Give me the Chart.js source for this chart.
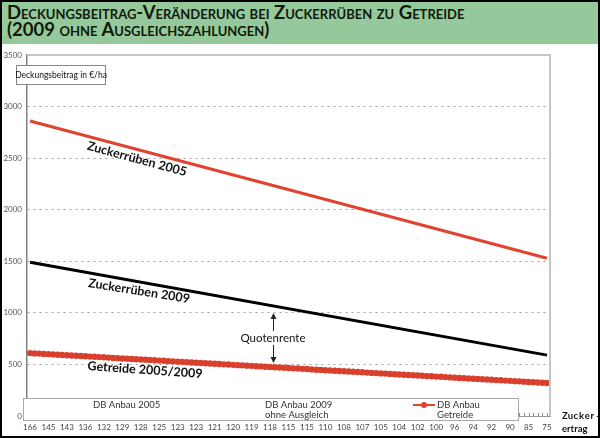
<!DOCTYPE html>
<html>
<head>
<meta charset="utf-8">
<script src="https://cdn.jsdelivr.net/npm/chart.js@4.4.1/dist/chart.umd.min.js"></script>
<style>
  html, body { margin: 0; padding: 0; background: #fff; }
  #wrap { position: relative; width: 600px; height: 438px; overflow: hidden; }
  #chart { position: absolute; left: 0; top: 0; }
  #title {
    position: absolute; left: 0; top: 0; width: 600px; height: 44px;
    box-sizing: border-box; padding: 4px 0 0 7px;
    background: #95c89b; color: #101a0c;
    font: bold 18.5px Lato, 'Open Sans', sans-serif;
    font-variant: small-caps; line-height: 17px;
  }
  #frame {
    position: absolute; left: 0; top: 0; width: 600px; height: 438px;
    box-sizing: border-box; border: 2px solid #000; pointer-events: none;
  }
</style>
</head>
<body>
<div id="wrap">
  <canvas id="chart" width="600" height="438"></canvas>
  <div id="title">Deckungsbeitrag-Veränderung bei Zuckerrüben zu Getreide<br>(2009 ohne Ausgleichszahlungen)</div>
  <div id="frame"></div>
</div>
<script>
// Zuckerertrag labels shown under the axis (every 4th point)
const xLabels = ["166", "145", "143", "136", "132", "129", "128", "125", "123", "123",
  "121", "120", "119", "118", "115", "115", "110", "108", "107", "105",
  "104", "102", "100", "96", "94", "92", "90", "85", "75"]
const labelStep = 4

const yTicks = [0, 500, 1000, 1500, 2000, 2500, 3000, 3500]

// straight lines, start and end point
const lineX = [0, 112]
const zr2005 = [2860, 1530]
const zr2009 = [1490, 590]

// DB Anbau Getreide, one value per point
const getreide = [610, 607, 605, 602, 600, 597, 594, 592, 589, 587,
  584, 582, 579, 576, 574, 571, 569, 566, 563, 561,
  558, 556, 553, 550, 548, 545, 543, 540, 537, 535,
  532, 530, 527, 525, 522, 519, 517, 514, 512, 509,
  506, 504, 501, 499, 496, 493, 491, 488, 486, 483,
  481, 478, 475, 473, 470, 468, 465, 462, 460, 457,
  455, 452, 449, 447, 444, 442, 439, 437, 434, 431,
  429, 426, 424, 421, 418, 416, 413, 411, 408, 405,
  403, 400, 398, 395, 392, 390, 387, 385, 382, 380,
  377, 374, 372, 369, 367, 364, 361, 359, 356, 354,
  351, 348, 346, 343, 341, 338, 336, 333, 330, 328,
  325, 323, 320]

const FONT = "Lato, 'Open Sans', sans-serif"
const red = "#e0432f"

const pts = (xs, ys) => ys.map((y, i) => ({ x: xs[i], y: y }))

const extras = {
  id: "extras",
  afterDatasetsDraw(chart) {
    const ctx = chart.ctx
    const a = chart.chartArea
    const xs = chart.scales.x
    ctx.save()

    // plot frame top + right
    ctx.strokeStyle = "#c6c6c6"
    ctx.lineWidth = 2
    ctx.beginPath()
    ctx.moveTo(a.left, a.top)
    ctx.lineTo(a.right, a.top)
    ctx.lineTo(a.right, a.bottom)
    ctx.stroke()

    // small category ticks on the x axis
    ctx.strokeStyle = "#888"
    ctx.lineWidth = 1
    ctx.beginPath()
    getreide.forEach((_, i) => {
      const px = Math.round(xs.getPixelForValue(i)) + 0.5
      ctx.moveTo(px, a.bottom - 3)
      ctx.lineTo(px, a.bottom)
    })
    ctx.stroke()

    // axis title box
    ctx.fillStyle = "#fff"
    ctx.strokeStyle = "#888"
    ctx.lineWidth = 1
    ctx.fillRect(16.5, 65.5, 89, 19)
    ctx.strokeRect(16.5, 65.5, 89, 19)
    ctx.fillStyle = "#111"
    ctx.font = "8.5px " + FONT
    ctx.textAlign = "center"
    ctx.textBaseline = "middle"
    ctx.fillText("Deckungsbeitrag in €/ha", 61, 75)

    // line labels
    const label = (txt, x, y, deg, font) => {
      ctx.save()
      ctx.translate(x, y)
      ctx.rotate(deg * Math.PI / 180)
      ctx.font = font
      ctx.fillStyle = "#111"
      ctx.textAlign = "center"
      ctx.textBaseline = "middle"
      ctx.fillText(txt, 0, 0)
      ctx.restore()
    }
    label("Zuckerrüben 2005", 137, 159, 15, "bold 12.5px " + FONT)
    label("Zuckerrüben 2009", 139, 291, 9, "bold 12.5px " + FONT)
    label("Getreide 2005/2009", 145, 370, 4, "bold 12.5px " + FONT)
    label("Quotenrente", 273, 338, 0, "11.5px " + FONT)

    // arrows
    const arrow = (x, y0, y1) => {
      const dir = y1 > y0 ? 1 : -1
      ctx.strokeStyle = "#222"
      ctx.fillStyle = "#222"
      ctx.lineWidth = 1
      ctx.beginPath()
      ctx.moveTo(x, y0)
      ctx.lineTo(x, y1 - dir * 5)
      ctx.stroke()
      ctx.beginPath()
      ctx.moveTo(x, y1)
      ctx.lineTo(x - 3, y1 - dir * 6)
      ctx.lineTo(x + 3, y1 - dir * 6)
      ctx.closePath()
      ctx.fill()
    }
    arrow(273.5, 331, 313)
    arrow(273.5, 345, 363)

    // legend box
    ctx.fillStyle = "#fff"
    ctx.strokeStyle = "#aaa"
    ctx.fillRect(23.5, 398.5, 495, 22)
    ctx.strokeRect(23.5, 398.5, 495, 22)
    ctx.fillStyle = "#333"
    ctx.font = "9.5px " + FONT
    ctx.textAlign = "left"
    ctx.fillText("DB Anbau 2005", 93, 405)
    ctx.fillText("DB Anbau 2009", 265, 405)
    ctx.fillText("ohne Ausgleich", 265, 414.5)
    ctx.fillText("DB Anbau", 437, 405)
    ctx.fillText("Getreide", 437, 414.5)
    ctx.strokeStyle = red
    ctx.lineWidth = 2
    ctx.beginPath()
    ctx.moveTo(413, 405)
    ctx.lineTo(435, 405)
    ctx.stroke()
    ctx.fillStyle = red
    ctx.beginPath()
    ctx.arc(424, 405, 3, 0, Math.PI * 2)
    ctx.fill()

    // axis name at the right
    ctx.fillStyle = "#111"
    ctx.font = "bold 9.5px " + FONT
    const z = "Zucker-"
    for (let i = 0; i < z.length; i++) {
      ctx.fillText(z[i], 562 + i * 5.7, 416)
    }
    ctx.fillText("ertrag", 562, 429)

    ctx.restore()
  }
}

const chart = new Chart("chart", {
  type: "line",
  data: {
    datasets: [
      {
        label: "DB Anbau 2005",
        data: pts(lineX, zr2005),
        borderColor: red,
        borderWidth: 3,
        pointRadius: 0
      },
      {
        label: "DB Anbau 2009 ohne Ausgleich",
        data: pts(lineX, zr2009),
        borderColor: "#000",
        borderWidth: 3,
        pointRadius: 0
      },
      {
        label: "DB Anbau Getreide",
        data: getreide.map((v, i) => ({ x: i, y: v })),
        borderColor: "#d8402d",
        backgroundColor: "#d8402d",
        borderWidth: 2,
        pointRadius: 3.2,
        pointBorderWidth: 0
      }
    ]
  },
  options: {
    responsive: false,
    animation: false,
    devicePixelRatio: 1,
    layout: { padding: { top: 55, right: 50, bottom: 0, left: 0 } },
    plugins: {
      legend: { display: false },
      tooltip: { enabled: false }
    },
    scales: {
      x: {
        type: "linear",
        min: -0.65,
        max: 112.65,
        afterFit: (s) => { s.height = 22 },
        afterBuildTicks: (s) => {
          s.ticks = xLabels.map((_, i) => ({ value: i * labelStep }))
        },
        ticks: {
          autoSkip: false,
          maxRotation: 0,
          padding: 7,
          color: "#444",
          font: { family: FONT, size: 8 },
          callback: (v) => xLabels[Math.round(v / labelStep)]
        },
        grid: { display: false, drawTicks: false },
        border: { color: "#999", width: 1 }
      },
      y: {
        min: 0,
        max: 3500,
        afterFit: (s) => { s.width = 27 },
        afterBuildTicks: (s) => {
          s.ticks = yTicks.map(v => ({ value: v }))
        },
        ticks: {
          padding: 5,
          color: "#555",
          font: { family: FONT, size: 8 },
          callback: (v) => String(v)
        },
        grid: {
          drawTicks: false,
          color: (c) => (c.tick && (c.tick.value === 0 || c.tick.value === 3500)) ? "rgba(0,0,0,0)" : "#a0a0a0",
          lineWidth: 1
        },
        border: { color: "#808080", width: 1.5, dash: [2, 4] }
      }
    }
  },
  plugins: [extras]
})
</script>
</body>
</html>
